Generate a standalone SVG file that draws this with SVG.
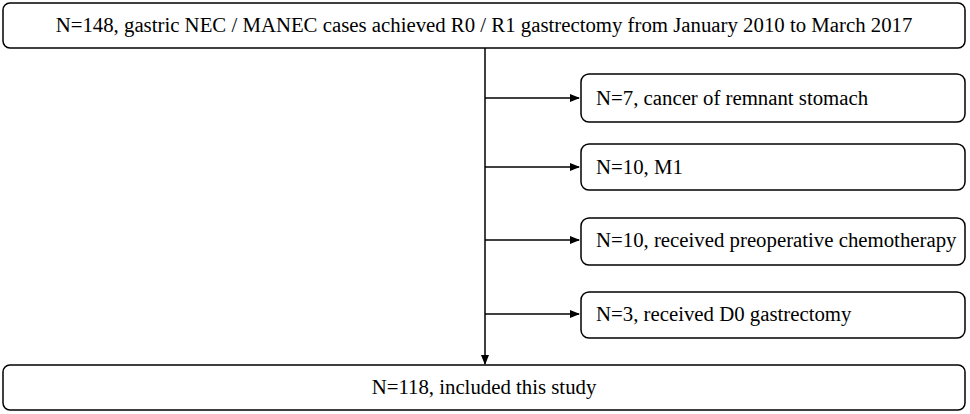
<svg xmlns="http://www.w3.org/2000/svg" width="970" height="414" viewBox="0 0 970 414">
<style>
rect{fill:#fff;stroke:#000;stroke-width:1.5}
text{font-family:"Liberation Serif",serif;font-size:20.8px;fill:#000}
.c line{stroke:#000;stroke-width:1.5}
</style>
<defs><marker id="a" markerWidth="10" markerHeight="8" refX="9" refY="4" orient="auto" markerUnits="userSpaceOnUse"><path d="M0,0L10,4L0,8z" fill="#000"/></marker></defs>
<rect width="970" height="414" style="fill:#fff;stroke:none"/>
<g class="c">
<line x1="485" y1="48" x2="485" y2="364" marker-end="url(#a)"/>
<line x1="485" y1="98" x2="579" y2="98" marker-end="url(#a)"/>
<line x1="485" y1="167" x2="579" y2="167" marker-end="url(#a)"/>
<line x1="485" y1="240" x2="579" y2="240" marker-end="url(#a)"/>
<line x1="485" y1="314" x2="579" y2="314" marker-end="url(#a)"/>
</g>
<g id="n0"><rect x="3" y="3" width="962" height="45" rx="7"/><text x="484" y="32" text-anchor="middle">N=148, gastric NEC / MANEC cases achieved R0 / R1 gastrectomy from January 2010 to March 2017</text></g>
<g id="n1"><rect x="581" y="74" width="384" height="48" rx="8"/><text x="596" y="105">N=7, cancer of remnant stomach</text></g>
<g id="n2"><rect x="581" y="144" width="384" height="46" rx="8"/><text x="596" y="174">N=10, M1</text></g>
<g id="n3"><rect x="581" y="218" width="384" height="47" rx="8"/><text x="596" y="247">N=10, received preoperative chemotherapy</text></g>
<g id="n4"><rect x="581" y="292" width="384" height="46" rx="8"/><text x="596" y="321">N=3, received D0 gastrectomy</text></g>
<g id="n5"><rect x="3" y="365" width="962" height="45" rx="7"/><text x="484" y="394" text-anchor="middle">N=118, included this study</text></g>
</svg>
